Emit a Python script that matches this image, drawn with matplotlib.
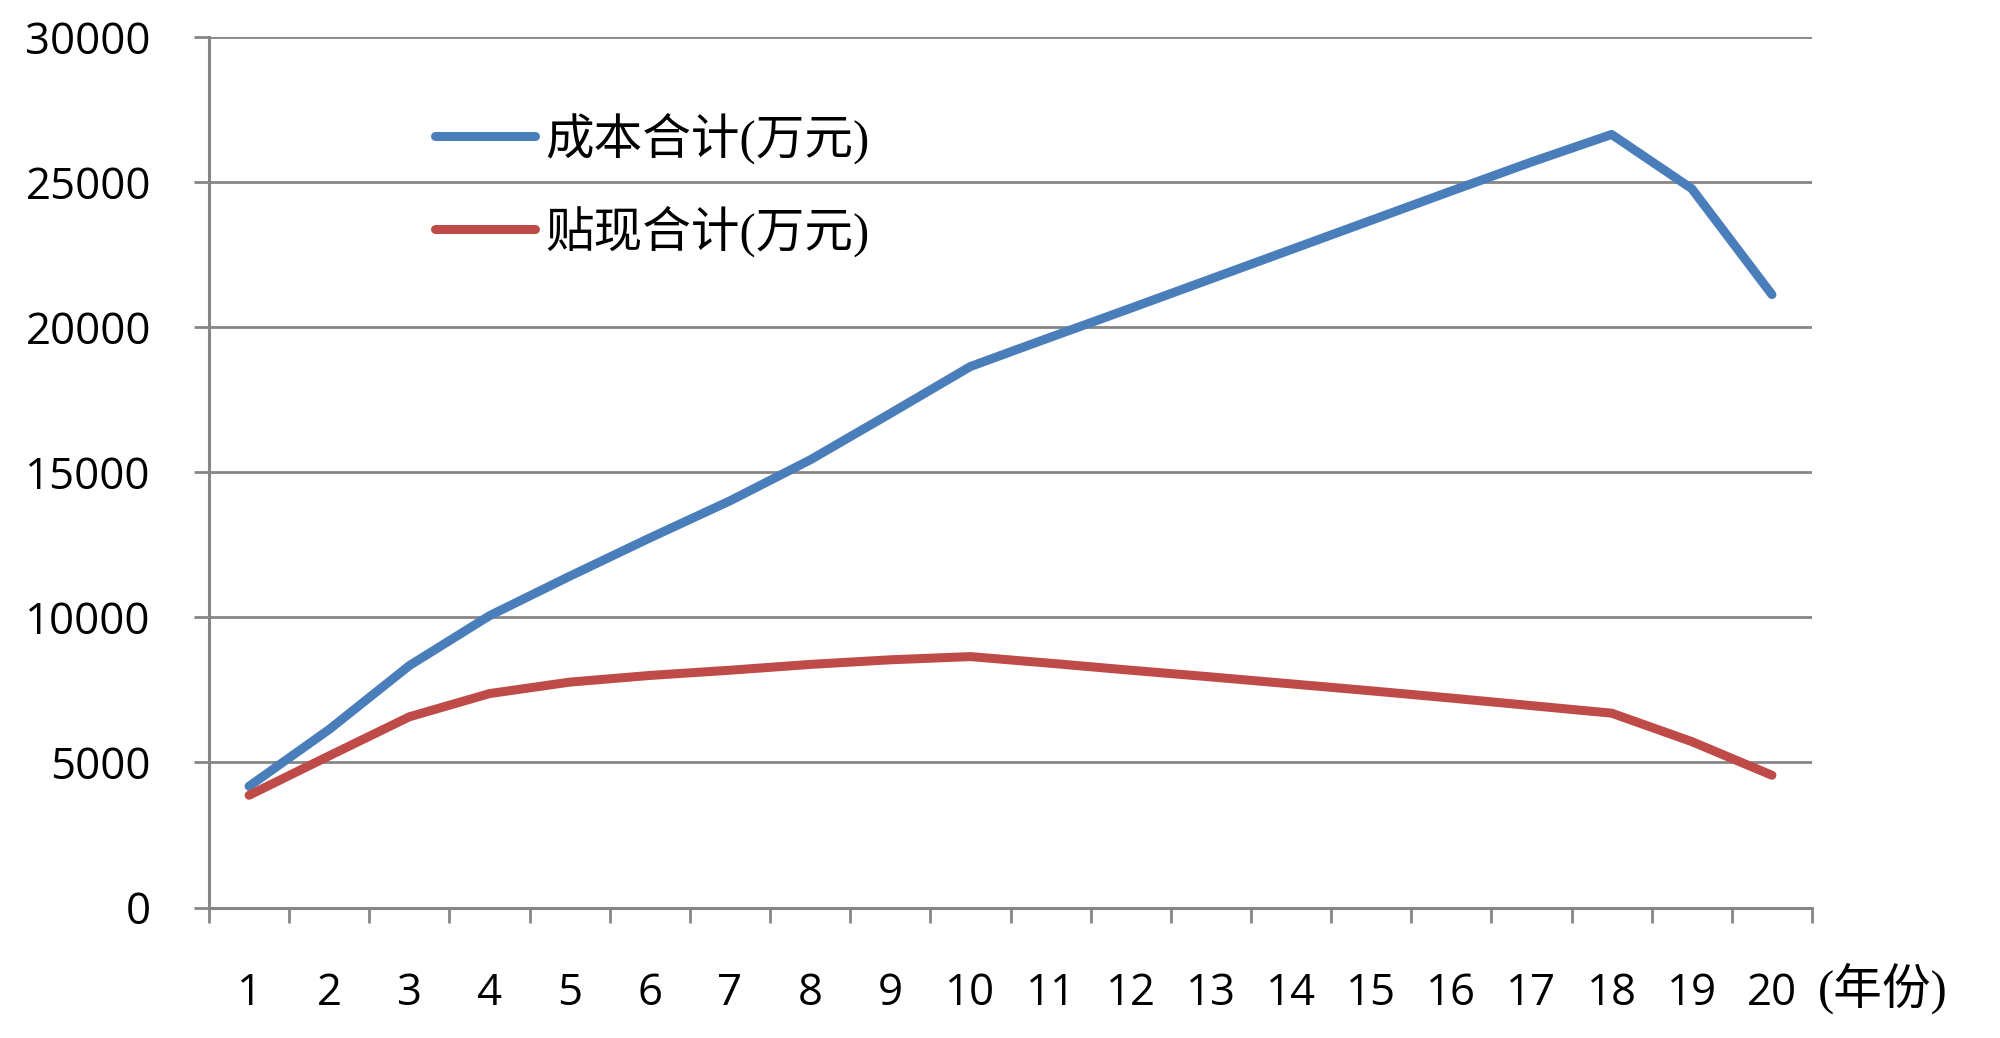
import numpy as np
import matplotlib
matplotlib.use("Agg")
import matplotlib.pyplot as plt
from matplotlib.ticker import FixedLocator

years = list(range(1, 21))
# 成本合计 (万元)
cost_total = [4180, 6140, 8340, 10060, 11420, 12740, 14020, 15430, 17030, 18650,
              19660, 20660, 21670, 22680, 23690, 24700, 25700, 26650, 24780, 21130]
# 贴现合计 (万元)
discount_total = [3870, 5230, 6575, 7375, 7770, 8000, 8180, 8380, 8540, 8650,
                  8420, 8180, 7950, 7710, 7470, 7220, 6960, 6700, 5720, 4560]
series_labels = ["成本合计(万元)", "贴现合计(万元)"]
y_ticks = [0, 5000, 10000, 15000, 20000, 25000, 30000]
x_unit = "(年份)"

grey = "#868686"
cn_font = ["Liberation Serif", "Noto Sans CJK SC"]

fig = plt.figure(figsize=(20, 10.38), dpi=100)
ax = fig.add_axes([0.1045, 0.1257, 0.906 - 0.1045, 0.9641 - 0.1257])

ax.plot(years, cost_total, color="#4A7EBB", lw=6.5, solid_capstyle="round",
        solid_joinstyle="round", label=series_labels[0], zorder=3)
ax.plot(years, discount_total, color="#BE4B48", lw=6.5, solid_capstyle="round",
        solid_joinstyle="round", label=series_labels[1], zorder=3)

ax.set_xlim(0.5, 20.5)
ax.set_ylim(0, 30000)
ax.set_yticks(y_ticks)
ax.set_xticks(years)
ax.xaxis.set_minor_locator(FixedLocator(np.arange(0.5, 21, 1)))
ax.grid(axis="y", color=grey, lw=2.0, zorder=1)

for side in ["top", "right"]:
    ax.spines[side].set_visible(False)
for side in ["left", "bottom"]:
    ax.spines[side].set_color(grey)
    ax.spines[side].set_linewidth(2.2)

ax.tick_params(axis="y", direction="out", length=10.8, width=2.0, color=grey,
               pad=31, labelsize=31.5)
ax.tick_params(axis="x", which="major", length=0, pad=46, labelsize=31.5)
ax.tick_params(axis="x", which="minor", direction="out", length=10.8, width=2.0, color=grey)
for lab in ax.get_xticklabels() + ax.get_yticklabels():
    lab.set_fontfamily("Open Sans")

ax.annotate(x_unit, xy=(1, 0), xycoords="axes fraction", xytext=(4, -58),
            textcoords="offset points", ha="left", va="center",
            fontsize=35, family=cn_font)

leg = ax.legend(loc="upper left", bbox_to_anchor=(0.2175, 0.892),
                bbox_transform=fig.transFigure, frameon=False, borderpad=0,
                borderaxespad=0, handlelength=2.05, handletextpad=0.22,
                labelspacing=0.86, prop={"family": cn_font, "size": 35})
for line in leg.get_lines():
    line.set_linewidth(6.5)
    line.set_solid_capstyle("round")

plt.savefig("out.png", dpi=100)
